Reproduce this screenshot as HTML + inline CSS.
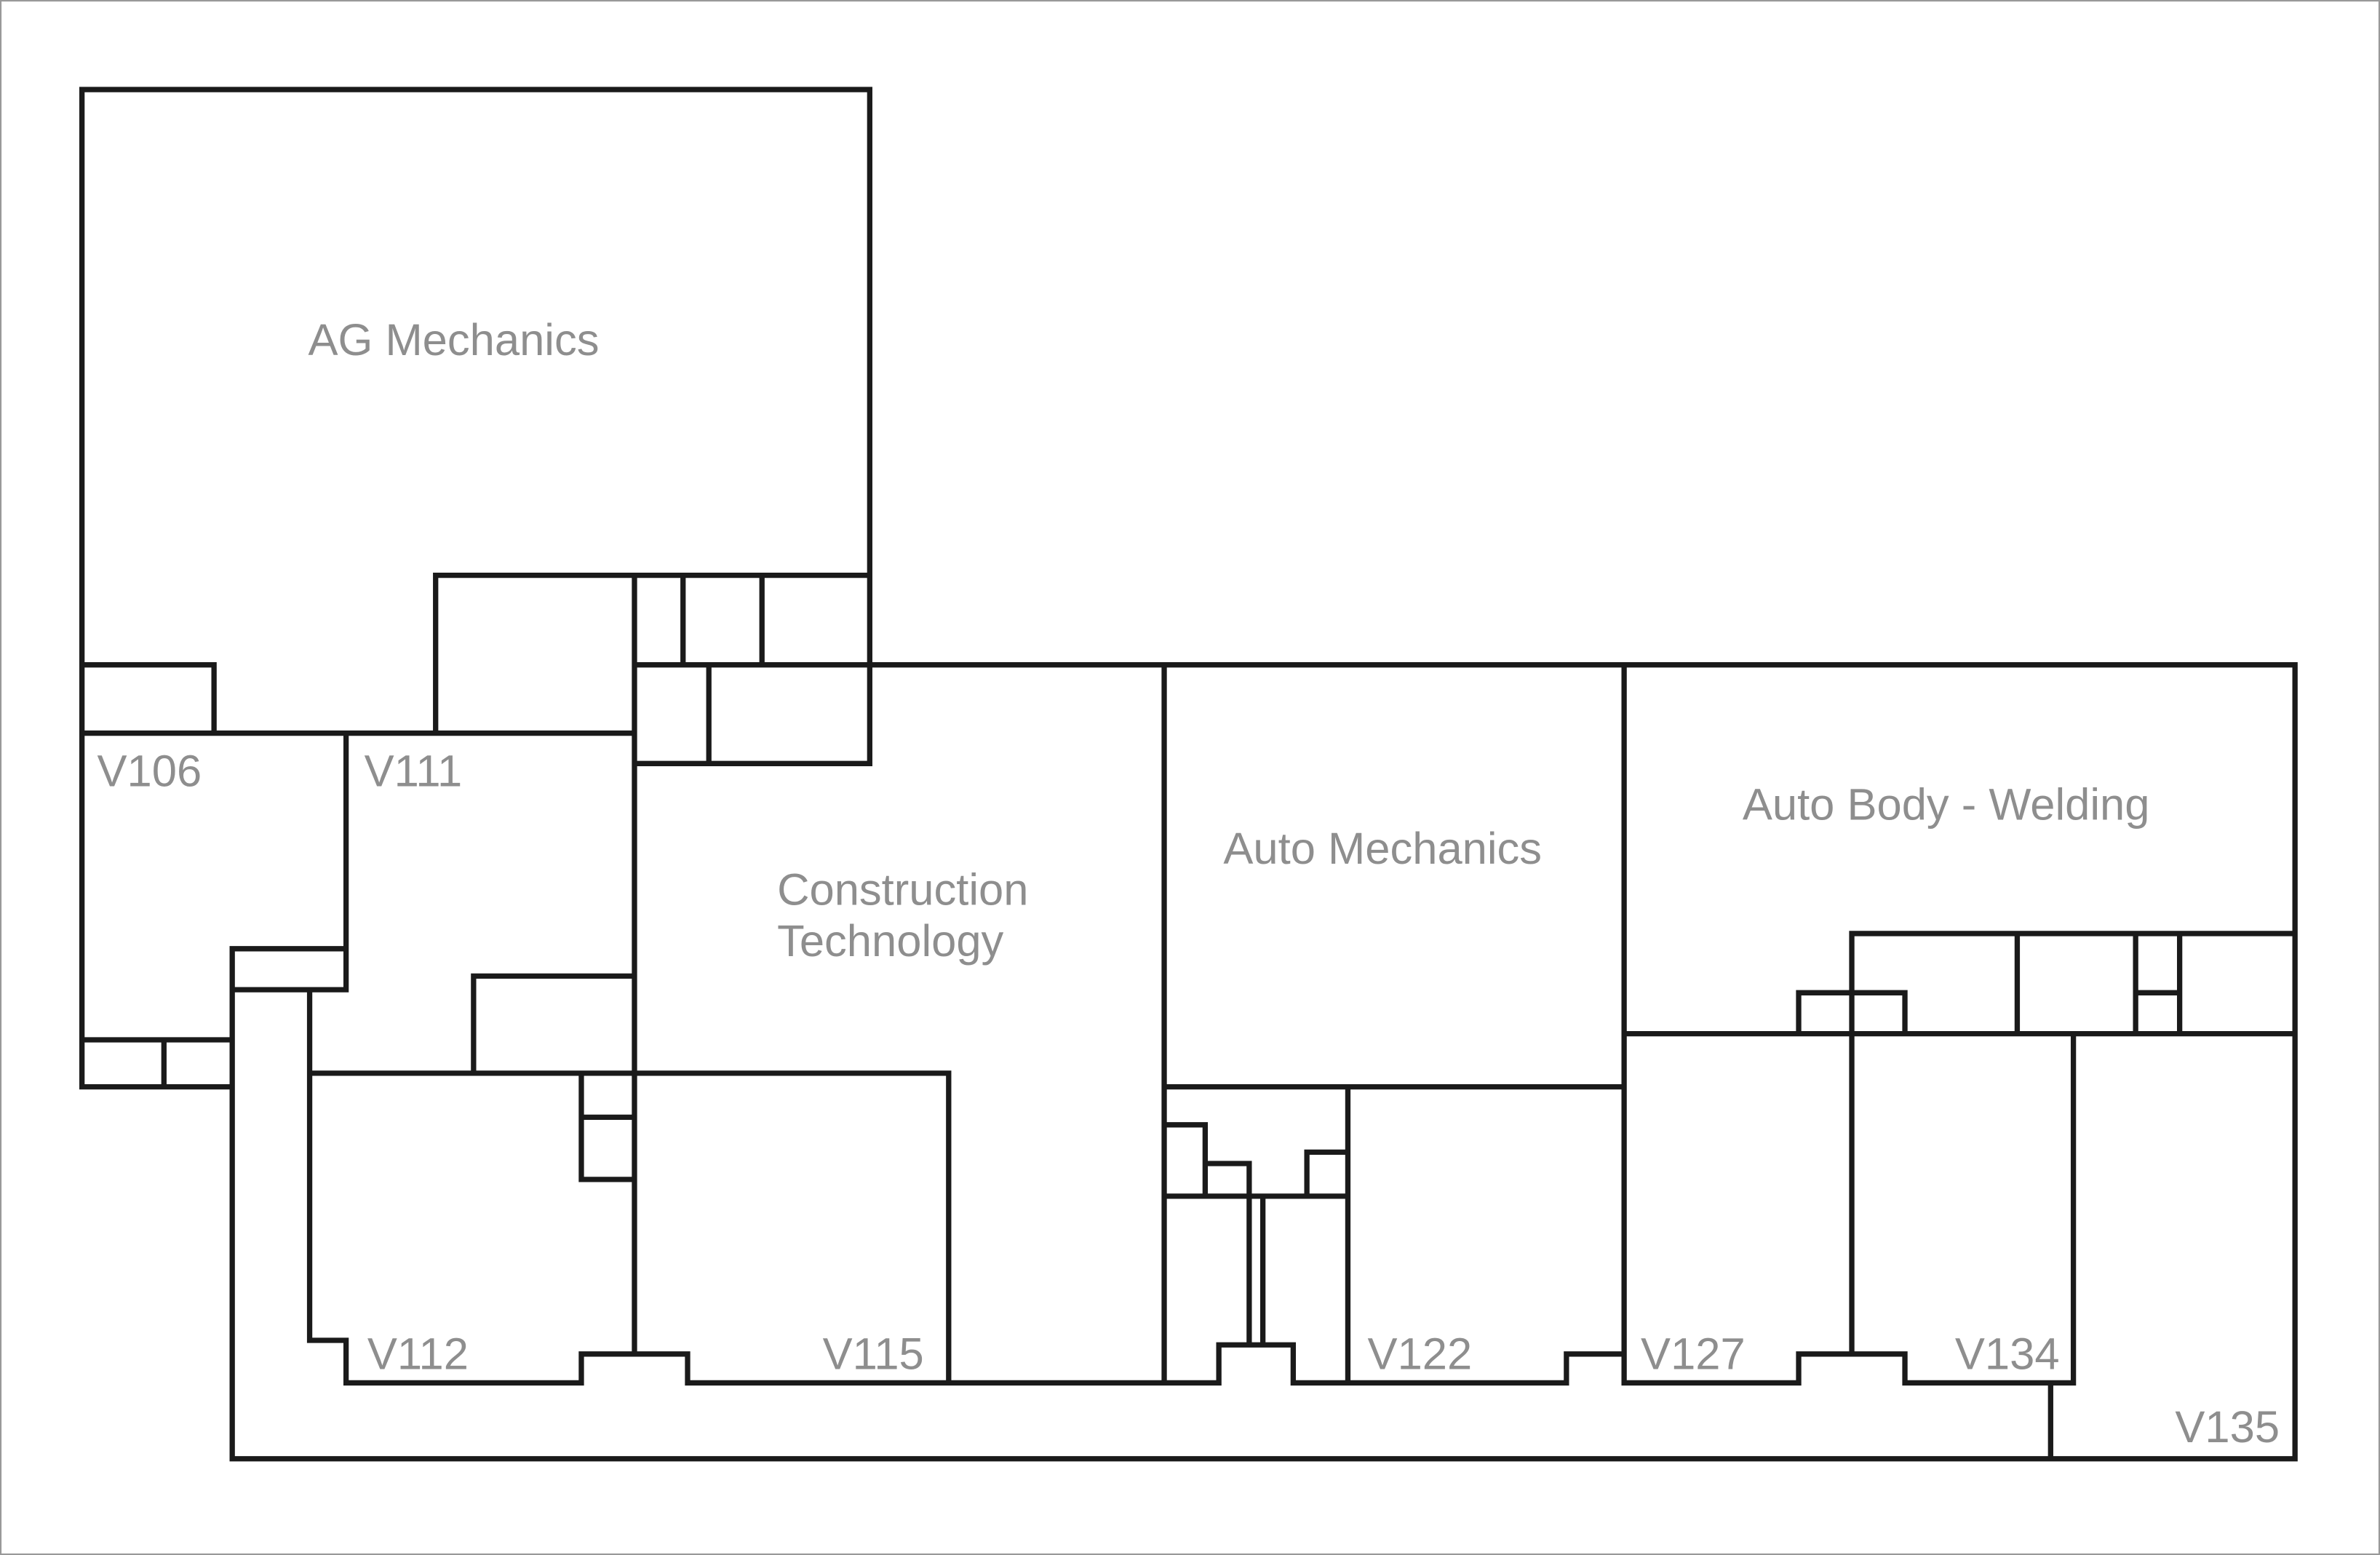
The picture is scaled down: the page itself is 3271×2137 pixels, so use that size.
<!DOCTYPE html>
<html><head><meta charset="utf-8"><style>
html,body{margin:0;padding:0;background:#fff;}
svg{display:block;}
text{font-family:"Liberation Sans",Arial,sans-serif;font-size:29.5px;fill:#8e8e8e;}
</style></head><body>
<svg width="3271" height="2137" viewBox="0 0 1568 1024.4" preserveAspectRatio="none">
<rect x="0.5" y="0.5" width="1567" height="1023.4" fill="#fff" stroke="#999" stroke-width="1"/>
<g stroke="#1a1a1a" stroke-width="3.5" fill="none" stroke-linecap="square">
<path d="M54 59H573V503 M54 59V716 M287 483V379H573 M418 379V892 M450 379V438 M502 379V438
M418 438H1512V961 M54 438H141V483 M467 438V503 M418 503H573 M54 483H418
M228 483V652 M153 625H228 M153 652H228 M153 625V961H1512
M204 652V883H228V911H383V892H453V911H803V886H852V911H1032V892H1070V911H1185V892H1255V911H1366V681
M54 685H153 M54 716H153 M108 685V716
M312 643H418 M312 643V707 M204 707H625V911
M383 707V777 M383 736H418 M383 777H418
M767 438V911 M1070 438V911 M767 716H1070 M888 716V911
M767 741H794V788 M794 766.5H823V886 M832 788V886 M767 788H888 M861 788V759H888
M1220 615H1512 M1220 615V892 M1329 615V681 M1407 615V681 M1436 615V681 M1407 654H1436
M1070 681H1512 M1185 681V654H1255V681 M1351 911V961"/>
</g>
<text x="203" y="234">AG Mechanics</text>
<text x="64" y="518">V106</text>
<text x="240" y="518">V111</text>
<text x="512" y="596">Construction</text>
<text x="512" y="630">Technology</text>
<text x="806" y="569">Auto Mechanics</text>
<text x="1148" y="540">Auto Body - Welding</text>
<text x="242" y="902">V112</text>
<text x="542" y="902">V115</text>
<text x="901" y="902">V122</text>
<text x="1081" y="902">V127</text>
<text x="1288" y="902">V134</text>
<text x="1433" y="950">V135</text>
</svg>
</body></html>
